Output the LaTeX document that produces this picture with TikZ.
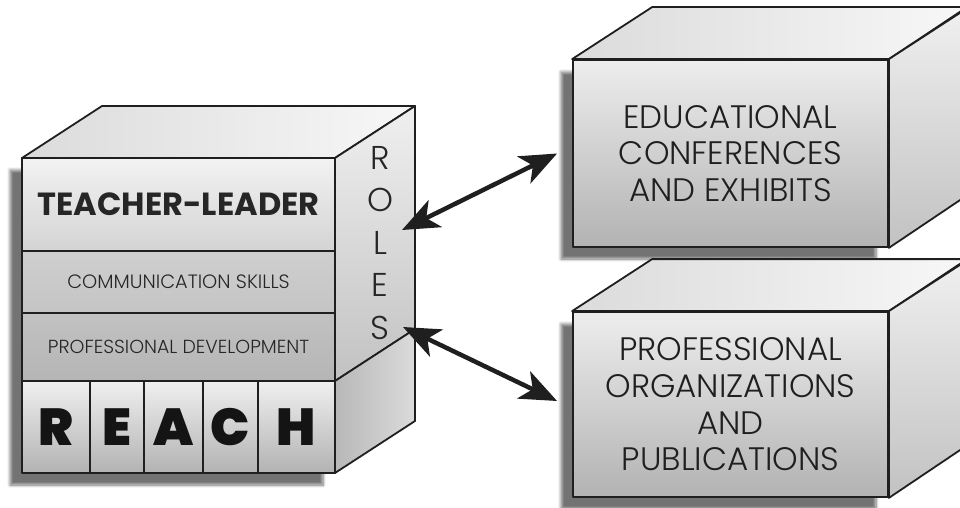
\documentclass[tikz,border=0pt]{standalone}
\usepackage{fontspec}
\setmainfont{Poppins Light}
\newfontfamily\leaderfont{Poppins Bold}
\newfontfamily\reachfont{Poppins Black}
\usepackage{tikz}
\usetikzlibrary{arrows.meta, shadows.blur}

\tikzset{
  edge/.style={draw=black!88, line width=1.8pt, line join=round},
  dropshadow/.style={blur shadow={shadow xshift=-12pt, shadow yshift=-12pt,
      shadow opacity=55, shadow blur radius=3pt, shadow blur steps=8}},
  topface/.style={edge, left color=black!14, right color=black!3},
  sideface/.style={edge, top color=black!6, bottom color=black!24},
  band/.style={edge, rectangle, inner sep=0pt, minimum width=313pt, text=black!85},
  frontbox/.style={edge, rectangle, inner sep=0pt, minimum width=315pt,
      top color=black!7, bottom color=black!30, dropshadow, align=center,
      text=black!88, font=\fontsize{32.5}{36.7}\selectfont},
  link/.style={draw=black!88, line width=4.5pt},
}

\begin{document}
\begin{tikzpicture}[x=1pt, y=-1pt, >={Stealth[length=37pt, width=30pt, inset=10pt]}]
    \useasboundingbox (0,0) rectangle (960,508);
    \clip (0,0) rectangle (960,508);

    % Left block: shadow, top and side faces
    \path[dropshadow] (22,158) rectangle (335,473);
    \draw[topface] (22,158) -- (102,106) -- (415,106) -- (335,158) -- cycle;
    \draw[sideface] (335,158) -- (415,106) -- (415,329) -- (335,381) -- cycle;
    \draw[edge, left color=black!28, right color=black!14] (335,381) -- (415,329) -- (415,421) -- (335,473) -- cycle;

    % Layers on the front
    \node[band, minimum height=93pt, top color=black!5, bottom color=black!17] (leader) at (178.5,204.5)
        {\leaderfont\fontsize{32}{34}\selectfont TEACHER-LEADER};
    \node[band, minimum height=62pt, top color=black!19, bottom color=black!23] (comm) at (178.5,282)
        {\fontsize{19.3}{21}\selectfont COMMUNICATION SKILLS};
    \node[band, minimum height=68pt, top color=black!24, bottom color=black!29] (profdev) at (178.5,347)
        {\fontsize{18.9}{21}\selectfont PROFESSIONAL DEVELOPMENT};

    % REACH cells along the bottom
    \foreach \l/\xa/\xb in {R/22/90, E/90/144, A/144/203, C/203/258, H/258/335}
        \node[edge, rectangle, inner sep=0pt, minimum width={(\xb-\xa)*1pt}, minimum height=92pt,
              top color=black!6, bottom color=black!30, text=black!92]
            (reach-\l) at ({(\xa+\xb)/2},427) {\reachfont\fontsize{52}{54}\selectfont \l};

    % Side label
    \node[align=center, text=black!85, font=\fontsize{33}{42.5}\selectfont] (roles) at (380,243)
        {R\\O\\L\\E\\S};

    % Right blocks
    \node[frontbox, minimum height=187pt] (conf) at (730.5,153.5)
        {EDUCATIONAL\\CONFERENCES\\AND EXHIBITS};
    \draw[topface] (conf.north west) -- ++(80,-52) -- ++(315,0) -- (conf.north east) -- cycle;
    \draw[sideface] (conf.north east) -- ++(80,-52) -- ++(0,187) -- (conf.south east) -- cycle;

    \node[frontbox, minimum height=185pt] (orgs) at (730.5,404.5)
        {PROFESSIONAL\\ORGANIZATIONS\\AND\\PUBLICATIONS};
    \draw[topface] (orgs.north west) -- ++(80,-52) -- ++(315,0) -- (orgs.north east) -- cycle;
    \draw[sideface] (orgs.north east) -- ++(80,-52) -- ++(0,185) -- (orgs.south east) -- cycle;

    % Arrows between the roles and the right blocks
    \coordinate (rolesA) at (402,230);
    \coordinate (rolesB) at (403,327);
    \draw[link, <->] (rolesA) -- ([xshift=-15pt]conf.west);
    \draw[link, <->] (rolesB) -- ([xshift=-15pt, yshift=3.5pt]orgs.west);
\end{tikzpicture}
\end{document}
